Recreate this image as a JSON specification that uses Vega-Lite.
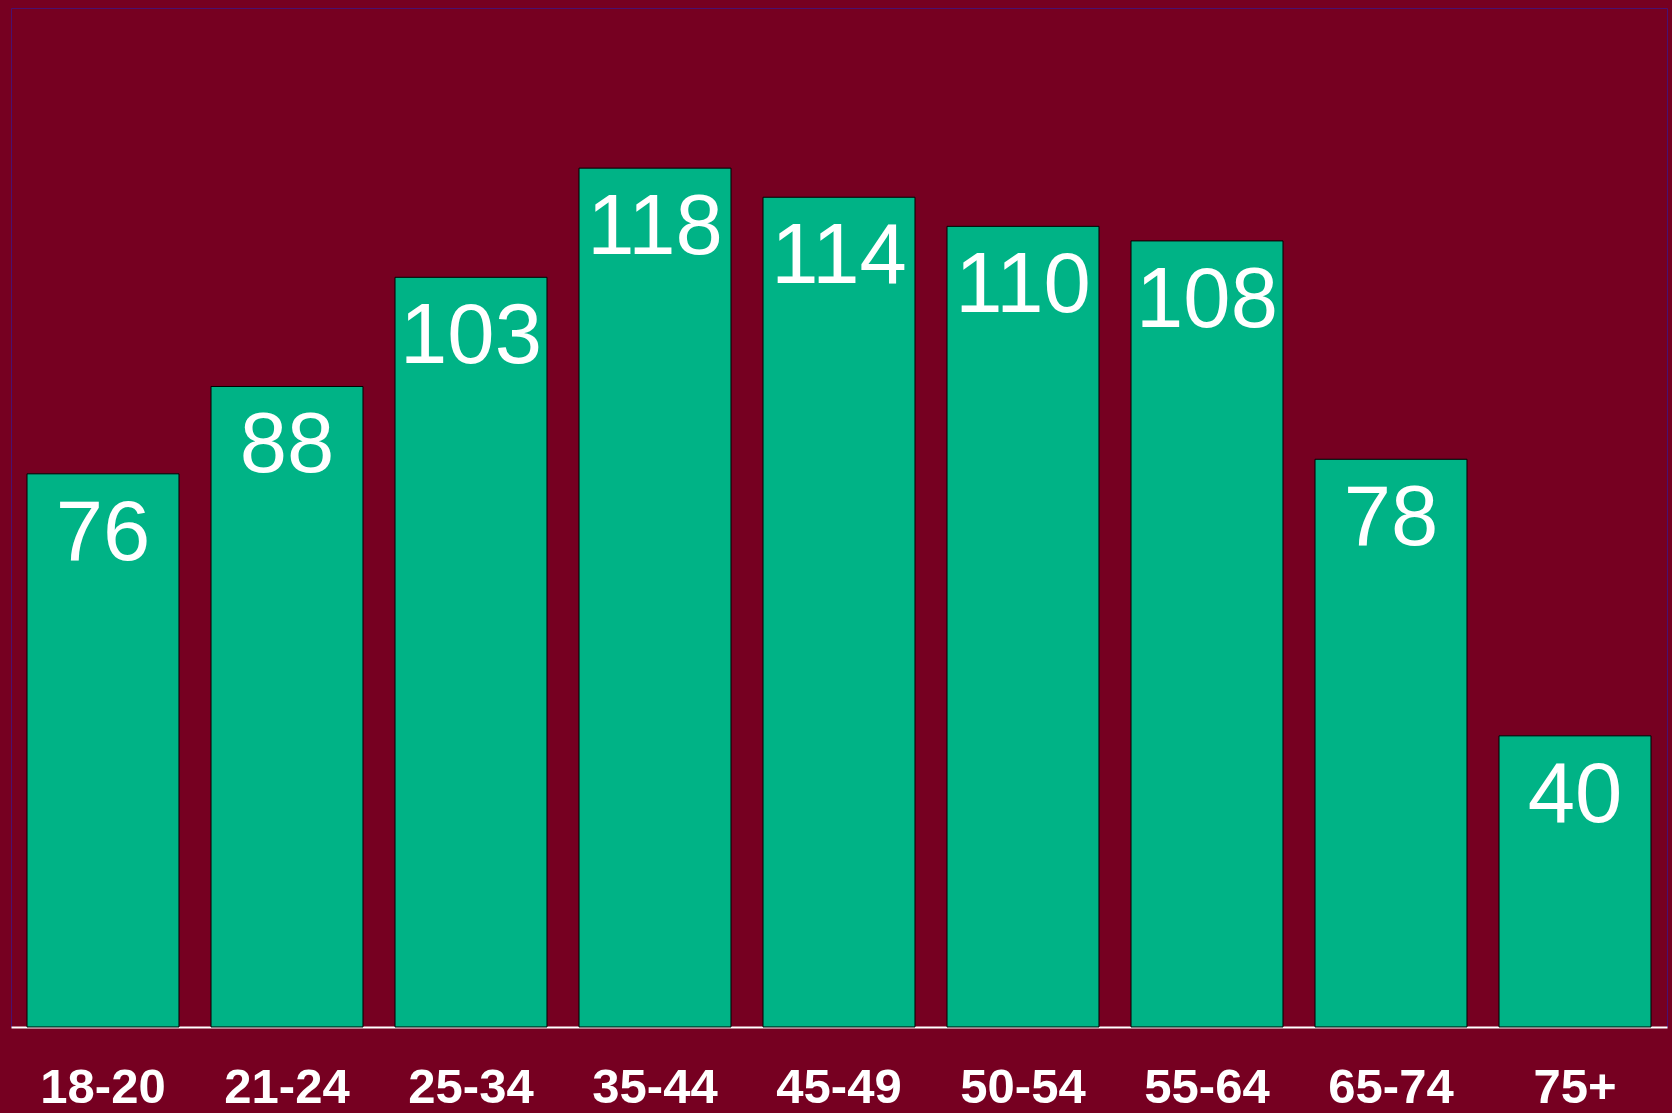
{
  "$schema": "https://vega.github.io/schema/vega-lite/v6.json",
  "width": 1656,
  "height": 1019,
  "autosize": {"type": "none"},
  "padding": {"left": 11, "top": 8, "right": 5, "bottom": 86},
  "background": "#760021",
  "config": {
    "view": {"stroke": "#4a1070", "strokeWidth": 1}
  },
  "data": {
    "values": [
      {"age": "18-20", "value": 76},
      {"age": "21-24", "value": 88},
      {"age": "25-34", "value": 103},
      {"age": "35-44", "value": 118},
      {"age": "45-49", "value": 114},
      {"age": "50-54", "value": 110},
      {"age": "55-64", "value": 108},
      {"age": "65-74", "value": 78},
      {"age": "75+", "value": 40}
    ]
  },
  "encoding": {
    "x": {
      "field": "age",
      "type": "nominal",
      "sort": null,
      "scale": {"paddingInner": 0.174, "paddingOuter": 0.087},
      "axis": {
        "title": null,
        "labelAngle": 0,
        "ticks": false,
        "domainColor": "#ffffff",
        "domainWidth": 2,
        "labelColor": "#ffffff",
        "labelFont": "Liberation Sans",
        "labelFontWeight": "bold",
        "labelFontSize": 49,
        "labelBaseline": "alphabetic",
        "labelPadding": 75
      }
    },
    "y": {
      "field": "value",
      "type": "quantitative",
      "scale": {"domain": [0, 140], "nice": false},
      "axis": null
    }
  },
  "layer": [
    {
      "mark": {"type": "bar", "color": "#00b386", "stroke": "#000000", "strokeWidth": 1}
    },
    {
      "mark": {
        "type": "text",
        "color": "#ffffff",
        "font": "Liberation Sans",
        "fontSize": 85,
        "baseline": "alphabetic",
        "align": "center",
        "dy": 86
      },
      "encoding": {"text": {"field": "value", "type": "quantitative"}}
    }
  ]
}
